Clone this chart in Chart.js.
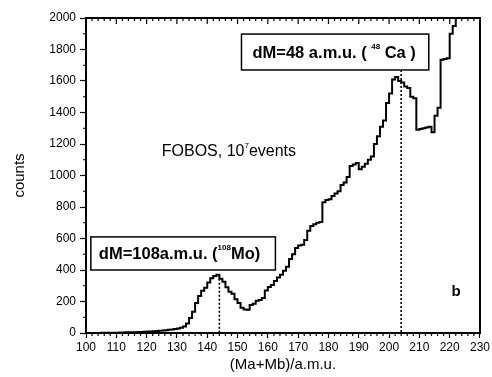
<!DOCTYPE html>
<html>
<head>
<meta charset="utf-8">
<script src="https://cdn.jsdelivr.net/npm/chart.js@4.4.1/dist/chart.umd.min.js"></script>
<style>
html,body{margin:0;padding:0;background:#fff;}
#wrap{width:492px;height:377px;}
</style>
</head>
<body>
<div id="wrap"><canvas id="massChart" width="492" height="377"></canvas></div>
<script>
// lower edge of each 1 a.m.u. bin (last entry closes the final bin)
var massBins=[100,101,102,103,104,105,106,107,108,109,110,111,112,113,114,115,116,117,118,119,
  120,121,122,123,124,125,126,127,128,129,130,131,132,133,134,135,136,137,138,139,
  140,141,142,143,144,145,146,147,148,149,150,151,152,153,154,155,156,157,158,159,
  160,161,162,163,164,165,166,167,168,169,170,171,172,173,174,175,176,177,178,179,
  180,181,182,183,184,185,186,187,188,189,190,191,192,193,194,195,196,197,198,199,
  200,201,202,203,204,205,206,207,208,209,210,211,212,213,214,215,216,217,218,219,
  220,221,222,223];
var counts=[0,0,0,0,0,1,1,1,2,2,2,3,3,4,4,5,5,6,7,8,
  9,10,11,12,14,16,18,20,22,25,28,33,42,60,95,135,190,235,268,288,
  320,348,362,370,345,325,290,262,250,215,190,160,150,148,178,185,205,210,222,270,
  292,305,330,352,370,395,420,470,500,540,555,560,590,650,680,690,700,705,830,845,
  850,870,885,900,940,955,990,1060,1070,1080,1040,1055,1075,1100,1120,1200,1250,1310,1350,1460,
  1520,1610,1625,1600,1590,1565,1555,1500,1490,1290,1295,1300,1305,1310,1275,1380,1430,1735,1740,1745,
  1900,1950,2200,2200];
var xTicks=[100,110,120,130,140,150,160,170,180,190,200,210,220,230];
var yTicks=[0,200,400,600,800,1000,1200,1400,1600,1800,2000];
// dotted markers: mass position and height
var markMass=[144,204];
var markTop=[370,1670];

var FONT="'Liberation Sans', Arial, sans-serif";

function richText(ctx,parts,x,y,size,weight){
  var cx=x;
  parts.forEach(function(p){
    if(p.sup){
      ctx.font=weight+' '+Math.round(size*0.5)+'px '+FONT;
      ctx.fillText(p.t,cx,y-size*0.4);
    }else{
      ctx.font=weight+' '+size+'px '+FONT;
      ctx.fillText(p.t,cx,y);
    }
    cx+=ctx.measureText(p.t).width;
  });
}

var notes={
  id:'notes',
  afterDatasetsDraw:function(chart){
    var ctx=chart.ctx,xs=chart.scales.x,ys=chart.scales.y,a=chart.chartArea;
    ctx.save();
    ctx.strokeStyle='#000';ctx.fillStyle='#000';
    // frame
    ctx.lineWidth=2;
    ctx.strokeRect(a.left,a.top,a.right-a.left,a.bottom-a.top);
    // minor ticks and top ticks
    ctx.lineWidth=1.2;
    ctx.beginPath();
    for(var m=100;m<=230;m+=2){
      var px=xs.getPixelForValue(m);
      var len=(m%10===0)?6:3;
      if(m%10!==0){ctx.moveTo(px,a.bottom);ctx.lineTo(px,a.bottom+3);}
      ctx.moveTo(px,a.top);ctx.lineTo(px,a.top+len);
    }
    for(var c=100;c<2000;c+=200){
      var py=ys.getPixelForValue(c);
      ctx.moveTo(a.left,py);ctx.lineTo(a.left-3,py);
    }
    ctx.stroke();
    // dotted markers
    ctx.setLineDash([2,2]);
    ctx.lineWidth=1.6;
    ctx.beginPath();
    markMass.forEach(function(mv,i){
      var px=xs.getPixelForValue(mv);
      ctx.moveTo(px,ys.getPixelForValue(markTop[i]));
      ctx.lineTo(px,a.bottom);
    });
    ctx.stroke();
    ctx.setLineDash([]);
    // label boxes
    ctx.lineWidth=1.5;
    var b1=[xs.getPixelForValue(151.3),ys.getPixelForValue(1898),xs.getPixelForValue(213.1),ys.getPixelForValue(1670)];
    ctx.fillStyle='#fff';
    ctx.fillRect(b1[0],b1[1],b1[2]-b1[0],b1[3]-b1[1]);
    ctx.strokeRect(b1[0],b1[1],b1[2]-b1[0],b1[3]-b1[1]);
    var b2=[xs.getPixelForValue(101.6),ys.getPixelForValue(610),xs.getPixelForValue(162.5),ys.getPixelForValue(400)];
    ctx.fillRect(b2[0],b2[1],b2[2]-b2[0],b2[3]-b2[1]);
    ctx.strokeRect(b2[0],b2[1],b2[2]-b2[0],b2[3]-b2[1]);
    ctx.fillStyle='#000';
    ctx.textBaseline='middle';ctx.textAlign='left';
    richText(ctx,[{t:'dM=48 a.m.u. ( '},{t:'48',sup:true},{t:' Ca )'}],b1[0]+11,(b1[1]+b1[3])/2+1,16.5,'bold');
    richText(ctx,[{t:'dM=108a.m.u. ('},{t:'108',sup:true},{t:'Mo)'}],b2[0]+8,(b2[1]+b2[3])/2+1,16.5,'bold');
    richText(ctx,[{t:'FOBOS, 10'},{t:'7',sup:true},{t:'events'}],xs.getPixelForValue(125),ys.getPixelForValue(1150),16,'normal');
    ctx.font='bold 15px '+FONT;
    ctx.fillText('b',xs.getPixelForValue(220.6),ys.getPixelForValue(260));
    ctx.restore();
  }
};

var points=massBins.map(function(m,i){return {x:m,y:counts[i]};});

new Chart(document.getElementById('massChart'),{
  type:'line',
  data:{datasets:[{
    data:points,
    stepped:true,
    borderColor:'#000',
    borderWidth:2,
    pointRadius:0,
    fill:false
  }]},
  options:{
    responsive:false,
    animation:false,
    layout:{padding:{top:18,right:12,left:0,bottom:0}},
    plugins:{legend:{display:false},tooltip:{enabled:false}},
    scales:{
      x:{
        type:'linear',min:100,max:230,
        afterBuildTicks:function(s){s.ticks=xTicks.map(function(v){return {value:v};});},
        afterFit:function(s){s.height=44;},
        grid:{drawOnChartArea:false,color:'#000',tickLength:5,tickWidth:1.2},
        border:{color:'#000',width:2},
        ticks:{color:'#000',padding:2,maxRotation:0,font:{family:FONT,size:12},callback:function(v){return String(v);}},
        title:{display:true,text:'(Ma+Mb)/a.m.u.',color:'#000',padding:{top:0,bottom:3},font:{family:FONT,size:15}}
      },
      y:{
        type:'linear',min:0,max:2000,
        afterBuildTicks:function(s){s.ticks=yTicks.map(function(v){return {value:v};});},
        afterFit:function(s){s.width=86;},
        grid:{drawOnChartArea:false,color:'#000',tickLength:6,tickWidth:1.2},
        border:{color:'#000',width:2},
        ticks:{color:'#000',padding:4,font:{family:FONT,size:12},callback:function(v){return String(v);}},
        title:{display:true,text:'counts',color:'#000',padding:{top:11,bottom:0},font:{family:FONT,size:15}}
      }
    }
  },
  plugins:[notes]
});
</script>
</body>
</html>
